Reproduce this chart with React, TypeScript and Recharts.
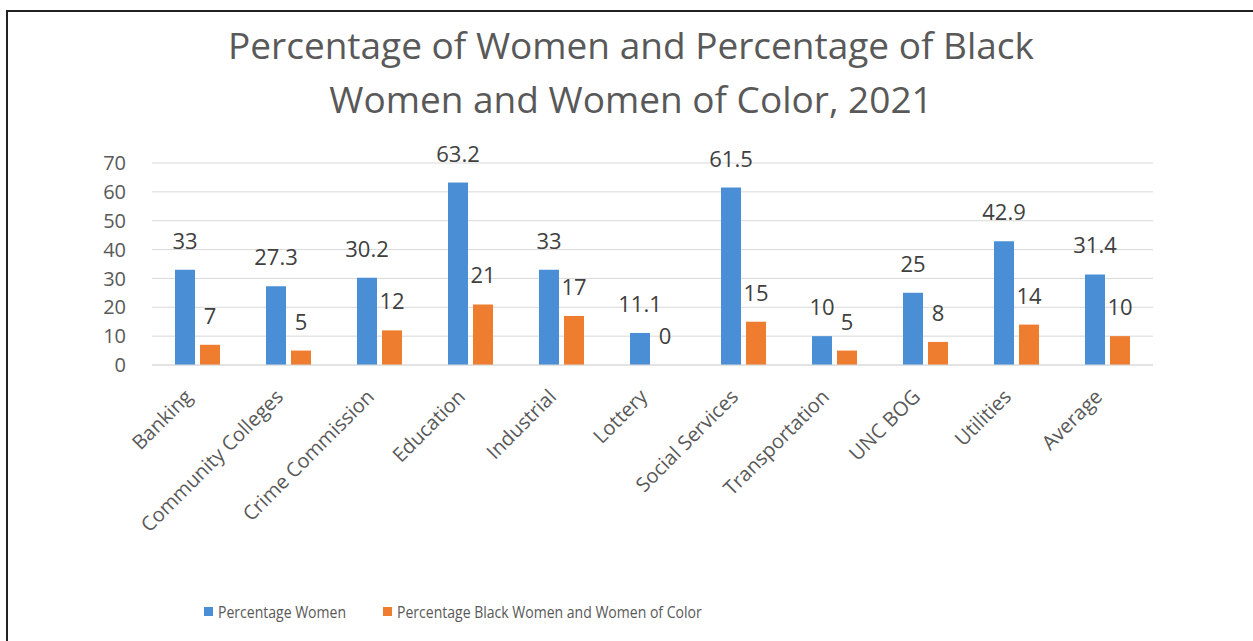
import React from 'react';
import { BarChart, Bar, XAxis, YAxis, CartesianGrid, LabelList } from 'recharts';

const categories = [
  'Banking',
  'Community Colleges',
  'Crime Commission',
  'Education',
  'Industrial',
  'Lottery',
  'Social Services',
  'Transportation',
  'UNC BOG',
  'Utilities',
  'Average',
];
const womenPct = [33, 27.3, 30.2, 63.2, 33, 11.1, 61.5, 10, 25, 42.9, 31.4];
const blackWomenPct = [7, 5, 12, 21, 17, 0, 15, 5, 8, 14, 10];
const yTicks = [0, 10, 20, 30, 40, 50, 60, 70];

const BLUE = '#4a8fd6';
const ORANGE = '#ee7d2f';
const FONT = '"Open Sans", sans-serif';
const BAR_SIZE = 20;
const BAR_GAP = 5;
const LABEL_OFFSET = 21;

const chartData = categories.map((name, i) => ({
  name,
  women: womenPct[i],
  black: blackWomenPct[i],
}));

// rotated category labels, like Excel's -45deg
const CategoryTick = (props: any) => {
  const { x, y, payload } = props;
  return (
    <g transform={`translate(${x - 4},${y + 25})`}>
      <text
        x={0}
        y={0}
        textAnchor="end"
        transform="rotate(-45)"
        fill="#595959"
        fontSize={20}
        fontFamily={FONT}
      >
        {payload.value}
      </text>
    </g>
  );
};

const labelText = (cx: number, y: number, v: number | string, key?: string) => (
  <text
    key={key}
    x={cx}
    y={y}
    textAnchor="middle"
    fill="#404040"
    fontSize={22}
    fontFamily={FONT}
  >
    {String(v)}
  </text>
);

// blue bar labels; zero-height orange bars get no label entry in recharts,
// so their "0" is drawn here, next to the blue bar
const WomenLabel = (props: any) => {
  const { x, y, width, height, value, index } = props;
  if (x === undefined || value === undefined) return null;
  const cx = Number(x) + Number(width) / 2;
  const base = Number(y) + Number(height);
  const other = blackWomenPct[index];
  return (
    <g>
      {labelText(cx, Number(y) - LABEL_OFFSET, value)}
      {other === 0 && labelText(cx + BAR_SIZE + BAR_GAP, base - LABEL_OFFSET, other)}
    </g>
  );
};

const BlackLabel = (props: any) => {
  const { x, y, width, value } = props;
  if (x === undefined || value === undefined || value === null) return null;
  return labelText(Number(x) + Number(width) / 2, Number(y) - LABEL_OFFSET, value);
};

const legendText: React.CSSProperties = {
  display: 'inline-block',
  transform: 'scaleX(0.85)',
  transformOrigin: 'left center',
  whiteSpace: 'nowrap',
};

const App: React.FC = () => {
  return (
    <div style={{ position: 'absolute', left: 0, top: 0, width: 1253, height: 641, background: '#fff', overflow: 'hidden' }}>
      {/* frame */}
      <div
        style={{
          position: 'absolute',
          left: 6,
          top: 10,
          width: 1300,
          height: 700,
          borderLeft: '2px solid #222',
          borderTop: '2px solid #222',
        }}
      />

      {/* title */}
      <div
        style={{
          position: 'absolute',
          left: 0,
          top: 18,
          width: 1262,
          textAlign: 'center',
          fontFamily: FONT,
          fontSize: 37,
          lineHeight: '54px',
          color: '#595959',
        }}
      >
        Percentage of Women and Percentage of Black
        <br />
        Women and Women of Color, 2021
      </div>

      <div style={{ position: 'absolute', left: 0, top: 0 }}>
        <BarChart
          width={1253}
          height={641}
          data={chartData}
          margin={{ top: 163, right: 100, left: 62, bottom: 96 }}
          barSize={BAR_SIZE}
          barGap={BAR_GAP}
        >
          <CartesianGrid vertical={false} stroke="#d9d9d9" />
          <XAxis
            dataKey="name"
            interval={0}
            height={180}
            tickLine={false}
            axisLine={{ stroke: '#d9d9d9' }}
            tick={<CategoryTick />}
          />
          <YAxis
            domain={[0, 70]}
            ticks={yTicks}
            interval={0}
            width={90}
            tickLine={false}
            axisLine={false}
            tickSize={0}
            tickMargin={26}
            tick={{ fill: '#595959', fontSize: 20, fontFamily: FONT }}
          />
          <Bar dataKey="women" fill={BLUE} isAnimationActive={false}>
            <LabelList dataKey="women" content={WomenLabel} />
          </Bar>
          <Bar dataKey="black" fill={ORANGE} isAnimationActive={false}>
            <LabelList dataKey="black" content={BlackLabel} />
          </Bar>
        </BarChart>
      </div>

      {/* legend */}
      <div
        style={{
          position: 'absolute',
          left: 204,
          top: 600,
          display: 'flex',
          alignItems: 'center',
          fontFamily: FONT,
          fontSize: 16.5,
          color: '#595959',
        }}
      >
        <span style={{ display: 'inline-block', width: 9, height: 9, background: BLUE, marginRight: 5 }} />
        <span style={legendText}>Percentage Women</span>
      </div>
      <div
        style={{
          position: 'absolute',
          left: 383,
          top: 600,
          display: 'flex',
          alignItems: 'center',
          fontFamily: FONT,
          fontSize: 16.5,
          color: '#595959',
        }}
      >
        <span style={{ display: 'inline-block', width: 9, height: 9, background: ORANGE, marginRight: 5 }} />
        <span style={legendText}>Percentage Black Women and Women of Color</span>
      </div>
    </div>
  );
};

export default App;
